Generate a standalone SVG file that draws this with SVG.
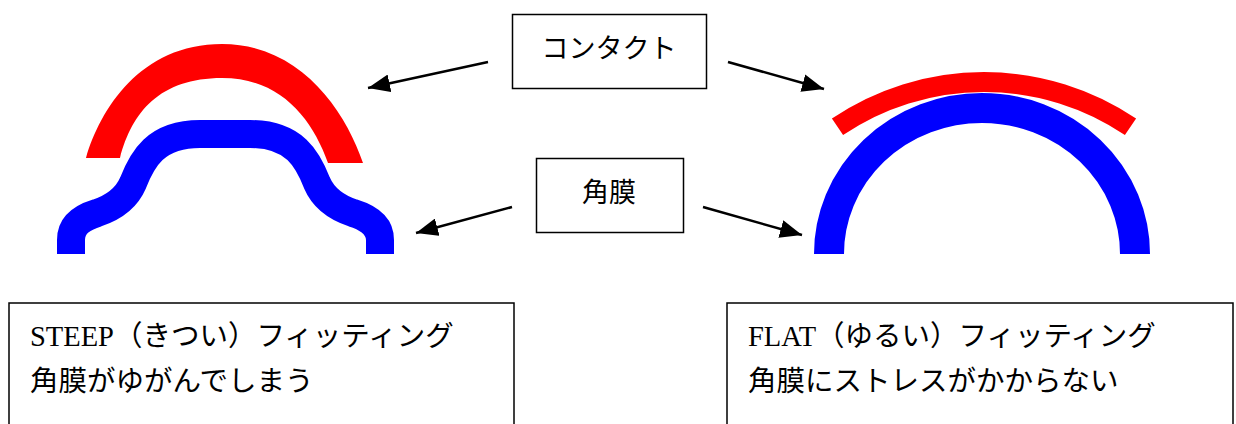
<svg xmlns="http://www.w3.org/2000/svg" width="1236" height="424" viewBox="0 0 1236 424">
  <style>
    .box { fill: #ffffff; stroke: #000000; stroke-width: 1.5; }
    .label { font-family: "Noto Sans CJK JP", sans-serif; font-size: 27px; fill: #000000; }
    .note { font-family: "Noto Sans CJK JP", sans-serif; font-size: 28.5px; fill: #000000; }
    .latin { font-family: "Liberation Serif", "Noto Sans CJK JP", serif; }
    .arrow { stroke: #000000; stroke-width: 2.5; fill: none; marker-end: url(#head); }
    .lens { fill: #ff0000; }
    .lensStroke { fill: none; stroke: #ff0000; }
    .cornea { fill: none; stroke: #0000ff; stroke-linecap: butt; stroke-linejoin: round; }
  </style>
  <defs>
    <marker id="head" markerUnits="userSpaceOnUse" viewBox="0 0 22 18" refX="22" refY="9" markerWidth="22" markerHeight="18" orient="auto">
      <path d="M0 0 L22 9 L0 18 Z" fill="#000000"/>
    </marker>
  </defs>

  <rect width="1236" height="424" fill="#ffffff"/>

  <!-- steep fitting: lens arch above a distorted cornea -->
  <g id="steep-lens">
    <path class="lens" d="M 86 158 C 100 110, 140 44, 222 44 C 300 44, 345 110, 363 163 L 328 163 C 312 118, 280 78, 222 78 C 160 78, 132 112, 120 158 Z"/>
  </g>
  <g id="steep-cornea">
    <path class="cornea" stroke-width="28" d="M 71 254 L 71 240 C 71 224, 84 217, 97 213 C 115 207, 127 197, 133 183 C 142 160, 155 134, 200 134 L 250 134 C 295 134, 308 160, 317 183 C 323 197, 335 207, 353 213 C 366 217, 380 224, 380 240 L 380 254"/>
  </g>

  <!-- flat fitting: shallow lens over a round cornea -->
  <g id="flat-lens">
    <path class="lensStroke" stroke-width="20" d="M 837.5 126.8 A 262 262 0 0 1 1130.5 126.8"/>
  </g>
  <g id="flat-cornea">
    <path class="cornea" stroke-width="30" d="M 829 254 A 153 146 0 0 1 1135 254"/>
  </g>

  <!-- labels -->
  <g id="contact">
    <rect class="box" x="512.5" y="14.5" width="194" height="74"/>
    <text class="label" x="609" y="58" text-anchor="middle">コンタクト</text>
  </g>
  <g id="cornea">
    <rect class="box" x="536.5" y="158.5" width="147" height="74"/>
    <text class="label" x="609" y="202" text-anchor="middle">角膜</text>
  </g>

  <g id="steep-note">
    <rect class="box" x="9" y="303" width="505" height="130"/>
    <text class="note" x="30" y="346"><tspan class="latin">STEEP</tspan>（きつい）フィッティング</text>
    <text class="note" x="30" y="391">角膜がゆがんでしまう</text>
  </g>
  <g id="flat-note">
    <rect class="box" x="727" y="303" width="506" height="130"/>
    <text class="note" x="748" y="346"><tspan class="latin">FLAT</tspan>（ゆるい）フィッティング</text>
    <text class="note" x="748" y="391">角膜にストレスがかからない</text>
  </g>

  <!-- connectors -->
  <g id="connectors">
    <line class="arrow" x1="488" y1="62" x2="368" y2="88"/>
    <line class="arrow" x1="728" y1="62" x2="824" y2="89"/>
    <line class="arrow" x1="512" y1="207" x2="416" y2="233"/>
    <line class="arrow" x1="703" y1="207" x2="802" y2="235"/>
  </g>
</svg>
